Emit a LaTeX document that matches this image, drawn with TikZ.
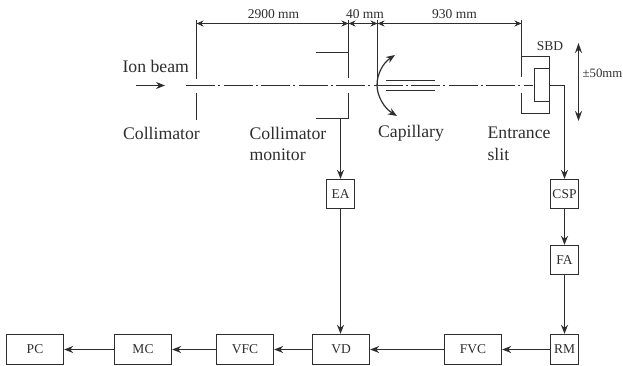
\documentclass[tikz,border=0pt]{standalone}
\usepackage{fontspec}
\setmainfont{Liberation Serif}
\usetikzlibrary{arrows.meta}
\definecolor{ink}{HTML}{2E2E2E}
\tikzset{
  x=1pt,y=-1pt,
  every path/.style={draw=ink,line width=1.2pt},
  blk/.style={draw=ink,line width=1.3pt,fill=white,inner sep=0pt,text=ink,font=\fontsize{13.5}{13.5}\selectfont},
  lbl/.style={draw=none,inner sep=0pt,anchor=west,align=left,text=ink,font=\fontsize{17.7}{21.5}\selectfont},
  small/.style={draw=none,inner sep=0pt,text=ink,font=\fontsize{13.5}{14}\selectfont},
  tip/.style={-{Stealth[length=9pt,width=7pt]}},
  dim/.style={{Stealth[length=7pt,width=6pt]}-{Stealth[length=7pt,width=6pt]},line width=0.9pt},
  axisline/.style={line width=1.1pt,dash pattern=on 29pt off 3pt on 2pt off 3.5pt},
}
\begin{document}
\begin{tikzpicture}
\useasboundingbox[draw=none] (0,0) rectangle (623,366);
% boxes
\node[blk,minimum width=57pt,minimum height=30pt] (pc)  at (35,349.5) {PC};
\node[blk,minimum width=57pt,minimum height=30pt] (mc)  at (143,349.5) {MC};
\node[blk,minimum width=57pt,minimum height=30pt] (vfc) at (245,349.5) {VFC};
\node[blk,minimum width=57pt,minimum height=30pt] (vd)  at (341,349.5) {VD};
\node[blk,minimum width=57pt,minimum height=30pt] (fvc) at (473,349.5) {FVC};
\node[blk,minimum width=28pt,minimum height=30pt] (rm)  at (564.5,349.5) {RM};
\node[blk,minimum width=28pt,minimum height=29pt] (fa)  at (564.5,260) {FA};
\node[blk,minimum width=28pt,minimum height=29pt] (csp) at (564.5,194) {CSP};
\node[blk,minimum width=28pt,minimum height=29pt] (ea)  at (340.5,194) {EA};
% block connectors
\draw[tip] (rm) -- (fvc);
\draw[tip] (fvc) -- (vd);
\draw[tip] (vd) -- (vfc);
\draw[tip] (vfc) -- (mc);
\draw[tip] (mc) -- (pc);
\draw[tip] (ea) -- (ea |- vd.north);
\draw[tip] (csp) -- (fa);
\draw[tip] (fa) -- (rm);
% reference points
\coordinate (colT) at (196.5,20);
\coordinate (colA) at (196.5,79);
\coordinate (colB) at (196.5,93);
\coordinate (colC) at (196.5,120);
\coordinate (monT) at (348.5,20);
\coordinate (monA) at (348.5,78);
\coordinate (monB) at (348.5,93);
\coordinate (monC) at (348.5,118.5);
\coordinate (monU) at (348.5,52.5);
\coordinate (monUL) at (316,52.5);
\coordinate (monLL) at (316,118.5);
\coordinate (monOut) at (340.5,118.5);
\coordinate (capT) at (377.5,20);
\coordinate (capA) at (377.5,85);
\coordinate (slitT) at (521.5,20);
\coordinate (slitA) at (521.5,77);
\coordinate (slitB) at (521.5,93);
\coordinate (slitC) at (521.5,113.5);
\coordinate (sbdTR) at (549.5,56.5);
\coordinate (sbdBR) at (549.5,113.5);
\coordinate (sbdSlitTop) at (521.5,56.5);
\coordinate (sbdOut) at (549.5,85.5);
\coordinate (beamL) at (186,85.5);
\coordinate (beamR) at (533,85.5);
\coordinate (d1) at (196.5,23.5);
\coordinate (d2) at (348.5,23.5);
\coordinate (d3) at (377.5,23.5);
\coordinate (d4) at (521.5,23.5);
% extension lines
\draw (colT) -- (colA);
\draw (colB) -- (colC);
\draw (monT) -- (monA);
\draw (monUL) -- (monU);
\draw (monB) -- (monC) -- (monLL);
\draw[tip] (monOut) -- (ea);
\draw[line width=0.9pt] (capT) -- (capA);
\draw (slitT) -- (slitA);
\draw (slitB) -- (slitC) -- (sbdBR) -- (sbdTR) -- (sbdSlitTop);
% dimension arrows
\draw[dim] (d1) -- node[small,above=4pt,xshift=1pt] {2900 mm} (d2);
\draw[dim] (d2) -- node[small,above=4pt,xshift=2pt] {40 mm} (d3);
\draw[dim] (d3) -- node[small,above=4pt,xshift=5pt] {930 mm} (d4);
% beam axis
\draw[axisline] (beamL) -- (beamR);
% ion beam arrow
\coordinate (ionA) at (136,85.5);
\coordinate (ionB) at (165,85.5);
\draw[tip] (ionA) -- (ionB);
% capillary
\coordinate (tubeA) at (386,80.5);
\coordinate (tubeB) at (435,80.5);
\coordinate (tubeC) at (386,90.5);
\coordinate (tubeD) at (435,90.5);
\draw (tubeA) -- (tubeB);
\draw (tubeC) -- (tubeD);
\coordinate (rotT) at (395,55);
\coordinate (rotB) at (397,116);
\draw[{Stealth[length=9pt,width=7pt]}-{Stealth[length=9pt,width=7pt]}] (rotT) .. controls (383,63) and (377,74) .. (377,85) .. controls (377,96) and (384,108) .. (rotB);
% SBD inner
\node[draw=ink,line width=1.2pt,fill=none,minimum width=15pt,minimum height=33pt,inner sep=0pt] (det) at (542,85) {};
% detector output
\draw[tip] (sbdOut) -| (csp);
% travel arrow
\coordinate (trA) at (578.5,43);
\coordinate (trB) at (578.5,121);
\draw[{Stealth[length=10pt,width=7pt]}-{Stealth[length=10pt,width=7pt]}] (trA) -- (trB);
% labels
\node[lbl] (l1) at (122,66) {Ion beam};
\node[lbl] (l2) at (122.5,133) {Collimator};
\node[lbl,anchor=north west] (l3) at (249,126.5) {Collimator\\monitor};
\node[lbl] (l4) at (377.5,133) {Capillary};
\node[lbl,anchor=north west] (l5) at (487,126.5) {Entrance\\slit};
\node[small] (l6) at (550,46) {SBD};
\node[small,anchor=west,font=\fontsize{12.8}{14}\selectfont] (l7) at (582,73) {±50mm};
\end{tikzpicture}
\end{document}
